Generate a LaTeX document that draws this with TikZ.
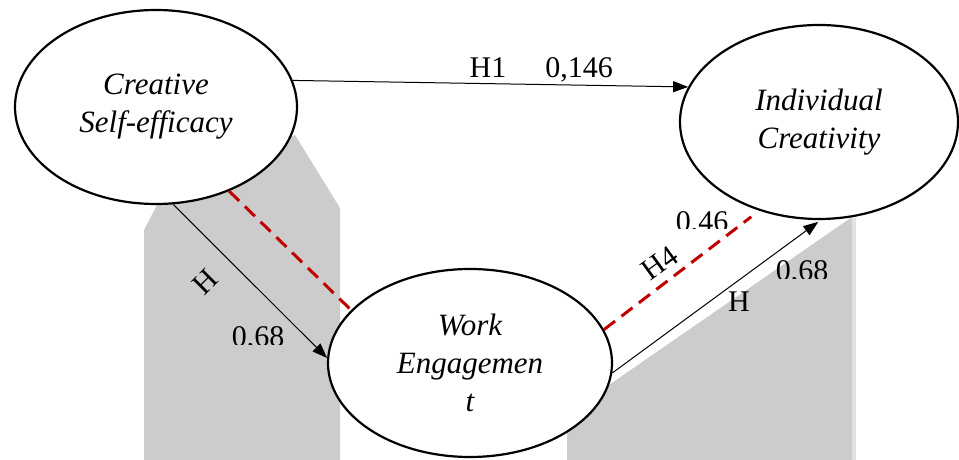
\documentclass[tikz,border=0pt]{standalone}
\usepackage{fontspec}
\setmainfont{Liberation Serif}
\usepackage{tikz}
\usetikzlibrary{arrows.meta, shapes.geometric, positioning, calc}
\definecolor{pathred}{RGB}{192, 0, 0}
\definecolor{boxgray}{RGB}{204, 204, 204}
\definecolor{edgegray}{RGB}{226, 226, 226}

\begin{document}
\begin{tikzpicture}[x=1pt, y=1pt,
    construct/.style={draw, line width=2.2pt, ellipse, fill=white, inner sep=0pt, align=center, font=\fontsize{31}{38}\selectfont\itshape},
    effect/.style={-{Triangle[length=15pt, width=11pt]}, line width=1pt},
    mediation/.style={pathred, line width=3pt, dash pattern=on 14pt off 8pt},
    coef/.style={font=\fontsize{30}{36}\selectfont, inner sep=0pt}]
  \useasboundingbox (0,0) rectangle (959,460);

  % Grey text-box remnants
  \fill[boxgray] (144,0) -- (144,230) -- (157,255) -- (295,325) -- (340,252) -- (340,0) -- cycle;
  \fill[boxgray] (567,0) -- (567,46) -- (852,243) -- (852,0) -- cycle;
  \fill[edgegray] (852,0) rectangle (856,242);

  % Constructs
  \node[construct, minimum width=282pt, minimum height=194pt] (cse) at (156,353) {Creative\\Self-efficacy};
  \node[construct, minimum width=278pt, minimum height=194pt] (ic) at (819,338) {Individual\\Creativity};
  \node[construct, minimum width=284pt, minimum height=188pt] (we) at (470,97) {Work\\Engagemen\\t};

  % Paths
  \draw[effect] (cse.11.5) -- (ic.165.6);
  \draw[effect] (cse.-80.2) -- (we.178.4);
  \draw[effect, shorten >=3pt] (we.-4.8) -- (ic.-89.4);
  \draw[mediation] (cse.-49.5) -- (we.156.2);
  \draw[mediation, shorten >=10pt] (we.14.2) -- (ic.-124.8);

  % Hypothesis labels
  \node[coef, anchor=base] (h1) at (488,382) {H1};
  \node[coef, anchor=base] (b1) at (579,382) {0,146};
  \node[coef, rotate=45] (h2) at (205,178) {H};
  \node[coef, rotate=36] (h4) at (660,197) {H4};
  \node[coef] (h3) at (739,158) {H};

  % Coefficients cut off at the bottom
  \foreach \cx/\by/\cy/\val [count=\i] in {258/113/115/{0,68}, 702/228/231/{0,46}, 802/179/181/{0,68}}{
    \begin{scope}
      \clip (\cx-40,\cy) rectangle (\cx+40,\cy+40);
      \node[coef, anchor=base] (coef\i) at (\cx,\by) {\val};
    \end{scope}
  }
\end{tikzpicture}
\end{document}
